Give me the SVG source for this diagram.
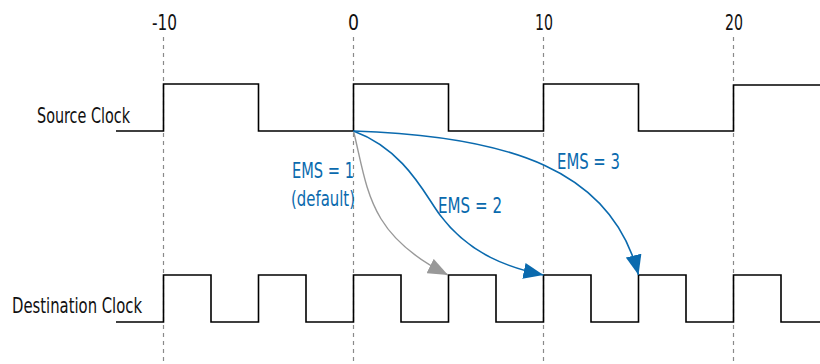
<svg xmlns="http://www.w3.org/2000/svg" width="820" height="364" viewBox="0 0 820 364">
<defs>
<style>
.grid{stroke:#8a8a8a;stroke-width:1.2;stroke-dasharray:4 4;fill:none}
.wave{stroke:#000;stroke-width:1.6;fill:none}
.t{font-family:"Liberation Sans Narrow","DejaVu Sans Condensed","Liberation Sans",sans-serif;font-size:21px;fill:#111}
.b{fill:#0a6aae}
.blue{stroke:#0a6aae;stroke-width:1.6;fill:none}
.gray{stroke:#999;stroke-width:1.4;fill:none}
</style>
<marker id="ab" markerUnits="userSpaceOnUse" markerWidth="22" markerHeight="16" refX="20" refY="8" orient="auto"><path d="M0,0 L20,8 L0,16 Z" fill="#0a6aae"/></marker>
<marker id="ag" markerUnits="userSpaceOnUse" markerWidth="22" markerHeight="16" refX="20" refY="8" orient="auto"><path d="M0,0 L20,8 L0,16 Z" fill="#999"/></marker>
</defs>
<g id="grid">
<line class="grid" x1="163.5" y1="37" x2="163.5" y2="364"/>
<line class="grid" x1="353.5" y1="37" x2="353.5" y2="364"/>
<line class="grid" x1="543.5" y1="37" x2="543.5" y2="364"/>
<line class="grid" x1="733.5" y1="37" x2="733.5" y2="364"/>
<text class="t" x="152" y="30" textLength="25" lengthAdjust="spacingAndGlyphs">-10</text>
<text class="t" x="348" y="30" textLength="11" lengthAdjust="spacingAndGlyphs">0</text>
<text class="t" x="535" y="30" textLength="18" lengthAdjust="spacingAndGlyphs">10</text>
<text class="t" x="725" y="30" textLength="18" lengthAdjust="spacingAndGlyphs">20</text>
</g>
<g id="source-clock">
<text class="t" x="37" y="123" textLength="93" lengthAdjust="spacingAndGlyphs">Source Clock</text>
<path class="wave" d="M116,131 H163.5 V84 H258.5 V131 H353.5 V84 H448.5 V131 H543.5 V84 H638.5 V131 H733.5 V85 H820"/>
</g>
<g id="destination-clock">
<text class="t" x="12" y="313" textLength="130" lengthAdjust="spacingAndGlyphs">Destination Clock</text>
<path class="wave" d="M116,322 H163.5 V275 H211 V322 H258.5 V275 H306 V322 H353.5 V275 H401 V322 H448.5 V275 H496 V322 H543.5 V275 H591 V322 H638.5 V275 H686 V322 H733.5 V275 H781 V322 H820"/>
</g>
<g id="connectors">
<path class="gray" d="M353.5,131 C368,190 368,235 448,275" marker-end="url(#ag)"/>
<path class="blue" d="M353.5,131 C405,150 425,195 440,215 C470,255 510,268 543.5,275" marker-end="url(#ab)"/>
<path class="blue" d="M353.5,131 C510,136 612,170 638.5,275" marker-end="url(#ab)"/>
</g>
<g id="labels">
<text class="t b" x="292" y="178" textLength="62" lengthAdjust="spacingAndGlyphs">EMS = 1</text>
<text class="t b" x="291" y="206" textLength="64" lengthAdjust="spacingAndGlyphs">(default)</text>
<text class="t b" x="438" y="213" textLength="64" lengthAdjust="spacingAndGlyphs">EMS = 2</text>
<text class="t b" x="557" y="169" textLength="63" lengthAdjust="spacingAndGlyphs">EMS = 3</text>
</g>
</svg>
